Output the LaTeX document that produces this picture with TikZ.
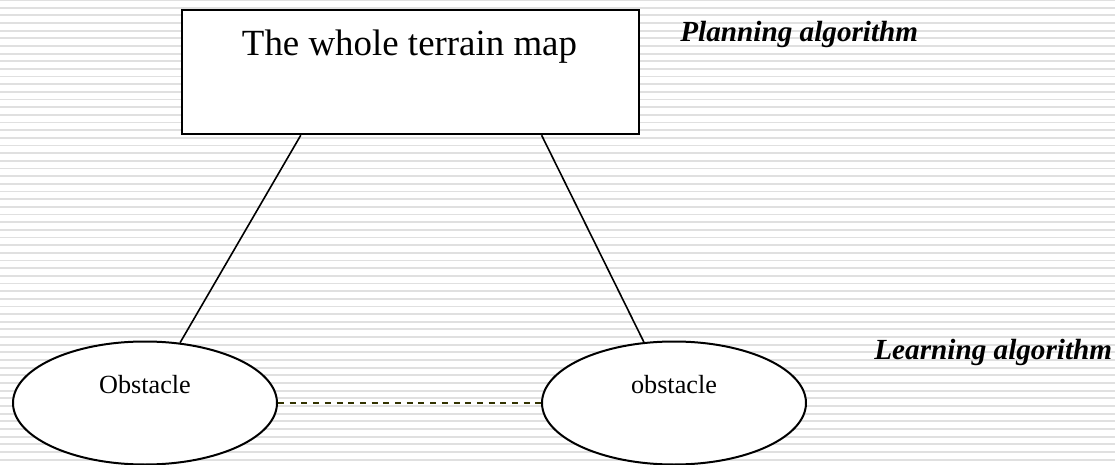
\documentclass[tikz,border=0pt]{standalone}
\usepackage{fontspec}
\setmainfont{Liberation Serif}
\usepackage{tikz}
\usetikzlibrary{shapes.geometric}
\definecolor{darkolive}{HTML}{333300}

\begin{document}
\begin{tikzpicture}[x=0.5pt, y=-0.5pt,
		mapbox/.style={draw, line width=1.1pt, fill=white, rectangle, minimum width=228.5pt, minimum height=62pt, inner sep=0pt, anchor=north west},
		obstacle/.style={draw, line width=1pt, fill=white, ellipse, minimum width=132pt, minimum height=61.5pt, inner sep=0pt},
		obstext/.style={font=\fontsize{13.1pt}{15pt}\selectfont, anchor=base, inner sep=0pt},
		algotext/.style={font=\fontsize{14.6pt}{17pt}\selectfont\bfseries\itshape, anchor=base west, inner sep=0pt},
		link/.style={line width=0.8pt},
		stripe/.style={color=black!12, line width=0.9pt}]
		% Hintergrund mit Streifen
		\fill[white] (0,0) rectangle (1115,465);
		\useasboundingbox (0,0) rectangle (1115,465);
		\foreach \k in {0,...,60} \draw[stripe] (0,\k*7.66) -- (1115,\k*7.66);
		% Karte oben
		\node[mapbox] (map) at (181,9) {};
		\node[font=\fontsize{18.45pt}{22pt}\selectfont, anchor=base, inner sep=0pt] (maptitle) at (409.5,56) {The whole terrain map};
		% Hindernisse unten
		\node[obstacle] (obsL) at (145,403) {};
		\node[obstacle] (obsR) at (674,403) {};
		\node[obstext] (obsLtxt) at (145,393) {Obstacle};
		\node[obstext] (obsRtxt) at (674,393) {obstacle};
		% Beschriftung rechts
		\node[algotext] (planning) at (680,42) {Planning algorithm};
		\node[algotext] (learning) at (874,359) {Learning algorithm};
		% Verbindungen
		\coordinate (mapL) at ([xshift=59.9pt]map.south west);
		\coordinate (mapR) at ([xshift=180.3pt]map.south west);
		\draw[link] (mapL) -- (obsL);
		\draw[link] (mapR) -- (obsR);
		\draw[darkolive, line width=1pt, dash pattern=on 3pt off 2.85pt] (obsL) -- (obsR);
	\end{tikzpicture}
\end{document}
